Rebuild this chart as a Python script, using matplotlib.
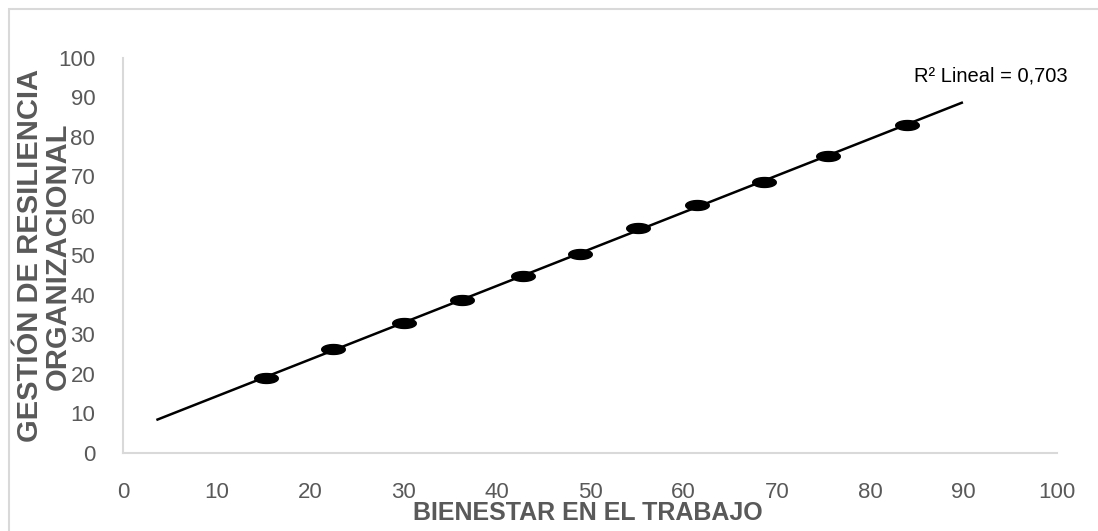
import numpy as np
import matplotlib
matplotlib.use("Agg")
from matplotlib import pyplot as plt
from matplotlib.path import Path
from matplotlib.patches import Rectangle

# puntos (bienestar, gestion de resiliencia)
bienestar = [15.3, 22.5, 30.1, 36.3, 42.8, 48.9, 55.1, 61.5, 68.6, 75.5, 83.9]
resiliencia = [19.0, 26.3, 32.9, 38.7, 44.8, 50.4, 57.0, 62.8, 68.6, 75.2, 83.0]
rango_ajuste = [3.7, 89.8]
r2_texto = "R² Lineal = 0,703"
ticks = list(range(0, 101, 10))

gris = "#595959"
font_num = ["Liberation Sans", "DejaVu Sans"]
font_tit = ["Liberation Sans", "DejaVu Sans"]

# marcador eliptico achatado
t = np.linspace(0, 2 * np.pi, 40)
elipse = Path(np.column_stack([np.cos(t), 0.42 * np.sin(t)]))

fig = plt.figure(figsize=(10.98, 5.31), dpi=100)
ax = fig.add_axes([0.112, 0.1469, 0.8507, 0.7439])

# recta de regresion lineal
pend, corte = np.polyfit(bienestar, resiliencia, 1)
xr = np.array(rango_ajuste)
ax.plot(xr, pend * xr + corte, color="black", lw=1.8, zorder=2)
ax.scatter(bienestar, resiliencia, marker=elipse, s=290, color="black", zorder=3)

ax.set_xlim(0, 100)
ax.set_ylim(0, 100)
ax.set_xticks(ticks)
ax.set_yticks(ticks)
ax.tick_params(length=0, colors=gris, labelsize=16, pad=20)
ax.tick_params(axis="x", pad=21)
for lab in ax.get_xticklabels() + ax.get_yticklabels():
    lab.set_family(font_num)
    lab.set_color(gris)

for s in ["top", "right"]:
    ax.spines[s].set_visible(False)
for s in ["left", "bottom"]:
    ax.spines[s].set_color("#d9d9d9")
    ax.spines[s].set_linewidth(1.5)

# titulos de ejes
fig.text(0.535, 0.033, "BIENESTAR EN EL TRABAJO", ha="center", va="center",
         fontsize=18, fontweight="bold", color=gris, family=font_tit)
fig.text(0.027, 0.518, "GESTIÓN DE RESILIENCIA", rotation=90, ha="center",
         va="center", fontsize=21, fontweight="bold", color=gris, family=font_tit)
fig.text(0.053, 0.518, "ORGANIZACIONAL", rotation=90, ha="center",
         va="center", fontsize=21, fontweight="bold", color=gris, family=font_tit)

ax.text(0.9725, 0.857, r2_texto, transform=fig.transFigure, ha="right",
        va="center", fontsize=14.5, family=font_num, color="black")

# marco del grafico
fig.patches.append(Rectangle((9 / 1098, -0.05), 1.2, 1 - 9 / 531 + 0.05,
                             transform=fig.transFigure, fill=False,
                             edgecolor="#d9d9d9", lw=1.5))

fig.savefig("out.png", dpi=100)
